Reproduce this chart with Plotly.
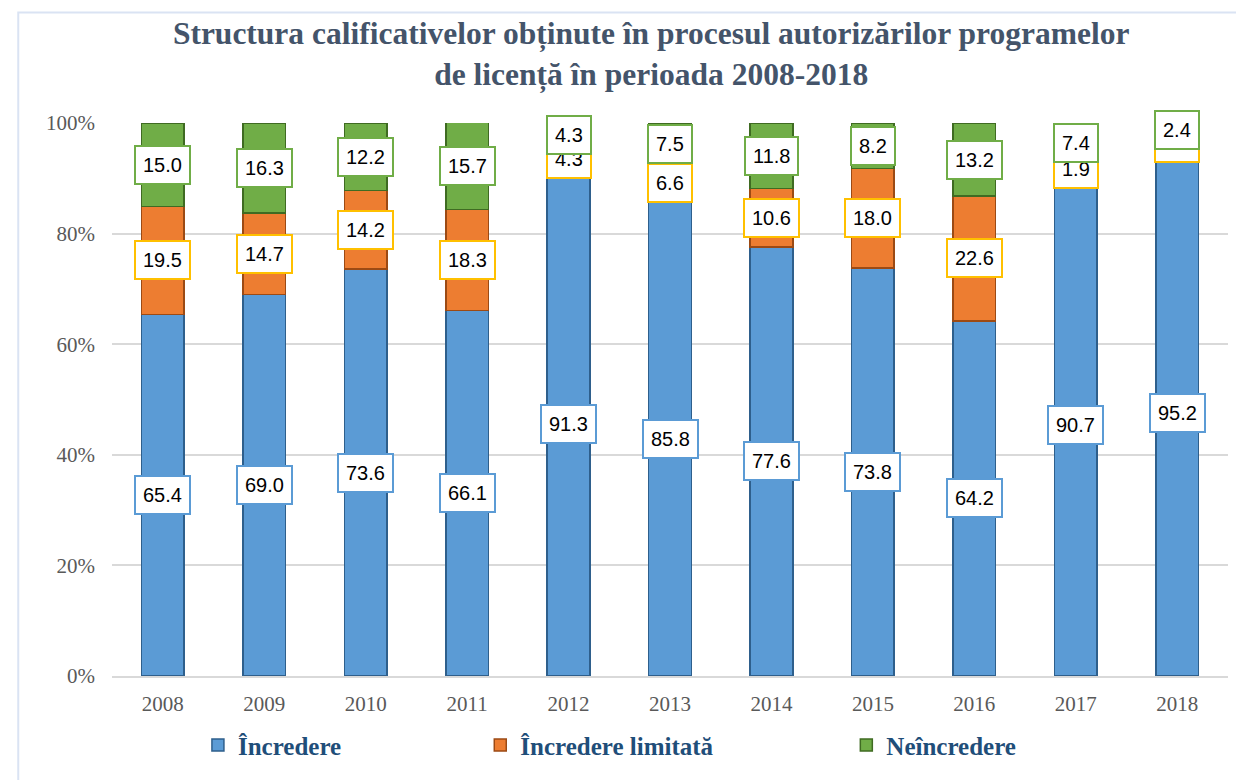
import plotly.graph_objects as go

# data (percent of programs per year)
years = ["2008", "2009", "2010", "2011", "2012", "2013", "2014", "2015", "2016", "2017", "2018"]
incredere = [65.4, 69.0, 73.6, 66.1, 91.3, 85.8, 77.6, 73.8, 64.2, 90.7, 95.2]
incredere_limitata = [19.5, 14.7, 14.2, 18.3, 4.3, 6.6, 10.6, 18.0, 22.6, 1.9, 2.4]
neincredere = [15.0, 16.3, 12.2, 15.7, 4.3, 7.5, 11.8, 8.2, 13.2, 7.4, 2.4]
y_ticks = [0, 20, 40, 60, 80, 100]

series = [
    ("Încredere", incredere, "#5b9bd5", "#2e5f8c", "#5b9bd5", "legend"),
    ("Încredere limitată", incredere_limitata, "#ed7d31", "#9c4a14", "#ffc000", "legend2"),
    ("Neîncredere", neincredere, "#70ad47", "#3f6b22", "#70ad47", "legend3"),
]

fig = go.Figure()
annotations = []
base = [0.0] * len(years)

for name, vals, color, edge, box, leg in series:
    fig.add_trace(go.Bar(
        x=years, y=vals, name=name, legend=leg, showlegend=True,
        marker=dict(color=color, line=dict(color=edge, width=1.5)),
    ))
    # label boxes centred in each segment (x given as category index)
    for i, v in enumerate(vals):
        annotations.append(dict(
            x=i, y=base[i] + v / 2, text=f"{v:.1f}",
            showarrow=False, bgcolor="white",
            bordercolor=box, borderwidth=2, borderpad=7,
            font=dict(family="Liberation Sans", size=20, color="black"),
        ))
        base[i] += v

legend_font = dict(family="Liberation Serif", size=25, color="#1f4e79", weight="bold")
legend_common = dict(orientation="h", y=-0.125, yanchor="middle", xanchor="left",
                     font=legend_font, bgcolor="rgba(0,0,0,0)")

fig.update_layout(
    showlegend=True,
    barmode="stack", bargap=0.58,
    width=1244, height=780,
    margin=dict(l=104, r=24, t=115, b=112),
    paper_bgcolor="white", plot_bgcolor="white",
    title=dict(
        text="Structura calificativelor obținute în procesul autorizărilor programelor<br>de licență în perioada 2008-2018",
        x=0.517, xanchor="center", y=0.954, yanchor="middle",
        font=dict(family="Liberation Serif", size=31.5, color="#44546a", weight="bold"),
    ),
    xaxis=dict(
        type="category", categoryorder="array", categoryarray=years,
        range=[-0.5, len(years) - 0.5],
        tickfont=dict(family="Liberation Serif", size=21, color="#595959"),
        showline=True, linecolor="#d9d9d9", linewidth=2,
        ticks="", ticklabelstandoff=8,
    ),
    yaxis=dict(
        range=[0, 100], tickvals=y_ticks,
        ticktext=[f"{t}%" for t in y_ticks],
        tickfont=dict(family="Liberation Serif", size=21, color="#595959"),
        showgrid=True, gridcolor="#d9d9d9", gridwidth=1.5,
        zeroline=False, ticks="", ticklabelstandoff=16,
    ),
    legend=dict(x=0.077, **legend_common),
    legend2=dict(x=0.33, **legend_common),
    legend3=dict(x=0.658, **legend_common),
    annotations=annotations,
    shapes=[dict(
        type="rect", xref="paper", yref="paper",
        x0=-0.084, x1=1.02, y0=-0.2, y1=1.2,
        line=dict(color="#dae3f3", width=2),
    )],
)

fig.write_html("out.html")
